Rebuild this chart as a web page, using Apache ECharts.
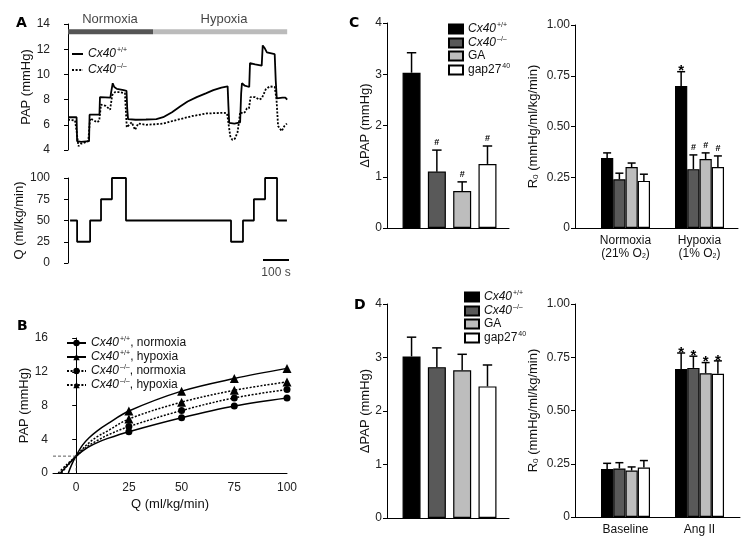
<!DOCTYPE html>
<html><head><meta charset="utf-8">
<script src="https://cdn.jsdelivr.net/npm/echarts@6/dist/echarts.min.js"></script>
<style>html,body{margin:0;padding:0;background:#fff}#c{width:746px;height:543px}</style>
</head><body><div id="c"></div>
<script>
// ---------------- DATA ----------------
// Panel A: PAP traces, [time (s), PAP (mmHg)]
const papWT = [[0,6.6],[33,6.6],[35,4.7],[50,4.65],[81,4.7],[83,6.8],[121,6.8],[123,8.2],[163,8.15],[166,8.6],[172,9.3],[178,9.0],[188,8.85],[214,8.75],[225,8.7],[228,7.2],[231,6.45],[260,6.4],[300,6.42],[340,6.45],[366,6.6],[400,7.0],[431,7.45],[460,7.85],[495,8.2],[530,8.5],[559,8.75],[590,8.95],[614,9.05],[617,7.5],[620,6.15],[640,6.1],[662,6.2],[666,8.5],[669,9.3],[680,9.1],[697,9.0],[700,10.9],[720,10.8],[745,10.7],[749,12.3],[756,12.1],[765,11.75],[795,11.6],[799,9.5],[803,8.1],[825,8.15],[836,8.15],[843,8.0]];
const papKO = [[0,6.4],[27,6.35],[33,5.5],[40,4.3],[50,4.5],[65,4.6],[78,4.7],[85,6.5],[100,6.35],[110,6.2],[120,6.3],[127,7.6],[145,7.5],[162,7.2],[170,8.35],[181,8.6],[200,8.6],[219,8.5],[226,5.8],[235,6.0],[245,6.2],[258,5.6],[270,6.1],[300,6.0],[340,6.05],[367,6.1],[420,6.4],[480,6.7],[533,6.9],[600,6.95],[612,6.9],[618,6.0],[624,5.1],[632,4.8],[642,4.9],[652,5.4],[658,6.3],[662,7.0],[672,6.9],[680,7.0],[688,7.3],[696,7.3],[702,8.2],[720,8.2],[735,8.0],[745,8.1],[752,8.4],[760,8.8],[775,9.05],[795,9.0],[802,8.0],[808,5.9],[815,5.7],[822,5.5],[832,5.9],[842,6.1]];
// Panel A: flow steps
const qTimes = [8,35,85,127,169,223,627,673,715,758,804,842];
const qVals  = [50,25,50,75,100,50,25,50,75,100,50,50];
const condTimes = [0,327,843];          // normoxia / hypoxia period bounds (s)
const condLabels = ['Normoxia','Hypoxia'];
const scaleBar = [750,850];             // 100 s
// Panel B: fitted curves (Q<25) and measured points (Q 25..100)
const bQobs = [25,50,75,100];
const bNormWT = {curve:[[-7.5,0],[-4,0.95],[0,2.0],[5,2.95],[10,3.6],[15,4.1]], obs:[4.9,6.55,7.95,8.9]};
const bHypWT  = {curve:[[-3.7,0],[-2.3,0.9],[0,2.05],[3,3.3],[6,4.15],[10,5.0],[15,5.85]], obs:[7.35,9.7,11.2,12.4]};
const bNormKO = {curve:[[-8.5,0],[-4.5,1.0],[0,2.0],[5,3.1],[10,3.85],[15,4.5]], obs:[5.5,7.4,8.9,9.9]};
const bHypKO  = {curve:[[-7,0],[-3.5,1.05],[0,2.0],[5,3.35],[10,4.3],[15,5.0]], obs:[6.4,8.4,9.8,10.8]};
const bGuide = [[-11,2],[0,2],[0,0]];
const bTicks = [0,25,50,75,100];
// Panels C/D
const groups = ['Cx40+/+','Cx40-/-','GA','gap27'];
const cDpapMean = [3.03,1.10,0.72,1.25];
const cDpapErr  = [3.42,1.52,0.90,1.60];
const cDpapMark = ['','#','#','#'];
const cCats = ['Normoxia','Hypoxia'];
const cR0Mean = [[0.345,0.70],[0.240,0.29],[0.300,0.34],[0.232,0.30]]; // per group: [normoxia, hypoxia]
const cR0Err  = [[0.370,0.77],[0.270,0.36],[0.320,0.37],[0.265,0.355]];
const cR0Mark = [['','*'],['','#'],['','#'],['','#']];
const dDpapMean = [3.02,2.82,2.76,2.46];
const dDpapErr  = [3.38,3.18,3.06,2.86];
const dCats = ['Baseline','Ang II'];
const dR0Mean = [[0.225,0.695],[0.228,0.70],[0.218,0.675],[0.232,0.672]];
const dR0Err  = [[0.252,0.77],[0.255,0.755],[0.235,0.725],[0.265,0.733]];
const dR0Mark = [['','*'],['','*'],['','*'],['','*']];

// ---------------- STYLE ----------------
const FONT = 'Liberation Sans';
const barColors = ['#000000','#595959','#bdbdbd','#ffffff'];
const RBW = 12.25;   // bar width in R0 panels
const LBW = 18;      // bar width in ΔPAP panels

const rich = {
  i:{fontStyle:'italic',fontSize:12,fontFamily:FONT,color:'#111',lineHeight:14},
  n:{fontSize:12,fontFamily:FONT,color:'#111',lineHeight:14},
  s:{fontSize:7,fontFamily:FONT,color:'#111',verticalAlign:'top',lineHeight:14,padding:[0,0,0,1]}
};
const sup = {'Cx40+/+':'{i|Cx40}{s|+/+}','Cx40-/-':'{i|Cx40}{s|–/–}','GA':'{n|GA}','gap27':'{n|gap27}{s|40}'};
const legendText = {
  a1: sup['Cx40+/+'], a2: sup['Cx40-/-'],
  b1: sup['Cx40+/+']+'{n|, normoxia}', b2: sup['Cx40+/+']+'{n|, hypoxia}',
  b3: sup['Cx40-/-']+'{n|, normoxia}', b4: sup['Cx40-/-']+'{n|, hypoxia}'
};
groups.forEach((g,k)=>{ legendText['c'+k]=sup[g]; legendText['d'+k]=sup[g]; });

function yAx(gi,min,max,interval,name,nameGap,extra){
  return Object.assign({type:'value',gridIndex:gi,min,max,interval,
    axisLine:{show:true,lineStyle:{color:'#000',width:1}},
    axisTick:{show:true,length:4,lineStyle:{color:'#000'}},
    axisLabel:{color:'#222',fontSize:12,fontFamily:FONT,margin:5},
    splitLine:{show:false},
    name,nameLocation:'middle',nameGap,
    nameTextStyle:{fontSize:13,fontFamily:FONT,color:'#111',rich:{
      a:{fontSize:13,fontFamily:FONT,color:'#111'},
      u:{fontSize:8,fontFamily:FONT,color:'#111',verticalAlign:'bottom'}}}
  },extra||{});
}
function xAx(gi,min,max,extra){
  return Object.assign({type:'value',gridIndex:gi,min,max,
    axisLine:{show:true,onZero:false,lineStyle:{color:'#000',width:1}},
    axisTick:{show:false},axisLabel:{show:false},splitLine:{show:false}},extra||{});
}
function legend(left,top,names,w,h,gap,extra){
  return Object.assign({left,top,orient:'vertical',itemWidth:w,itemHeight:h,itemGap:gap,selectedMode:false,
    data:names,formatter:n=>legendText[n],
    textStyle:{fontSize:12,fontFamily:FONT,color:'#111',rich}},extra||{});
}
function errSeries(xi,yi,pts,marks,off,cap){
  return {type:'custom',xAxisIndex:xi,yAxisIndex:yi,data:pts,z:5,silent:true,encode:{x:0,y:[1,2]},
    renderItem(params,api){
      const p0=api.coord([api.value(0),api.value(1)]);
      const p1=api.coord([api.value(0),api.value(2)]);
      const cx=p0[0]+off; const mk=marks[params.dataIndex];
      const ch=[
        {type:'line',shape:{x1:cx,y1:p0[1],x2:cx,y2:p1[1]},style:{stroke:'#000',lineWidth:1.5}},
        {type:'line',shape:{x1:cx-cap,y1:p1[1],x2:cx+cap,y2:p1[1]},style:{stroke:'#000',lineWidth:1.5}}];
      if(mk){
        const star=mk==='*';
        ch.push({type:'text',style:{text:mk,x:cx,y:p1[1]+(star?7:-3),align:'center',verticalAlign:'bottom',
          fontSize:star?15:9,fontWeight:'bold',fontFamily:FONT,fill:'#000'}});
      }
      return {type:'group',children:ch};
    }};
}

const series=[];
// ---- Panel A ----
series.push({name:'a1',type:'line',xAxisIndex:0,yAxisIndex:0,data:papWT,symbol:'none',
  lineStyle:{color:'#000',width:1.8},color:'#000'});
series.push({name:'a2',type:'line',xAxisIndex:0,yAxisIndex:0,data:papKO,symbol:'none',
  lineStyle:{color:'#000',width:1.8,type:[2,1.6]},color:'#000'});
const condColors=['#555555','#bbbbbb'];
for(let i=0;i<2;i++){
  series.push({type:'line',xAxisIndex:0,yAxisIndex:0,symbol:'none',silent:true,
    data:[[condTimes[i],13.38],[condTimes[i+1],13.38]],lineStyle:{color:condColors[i],width:5,cap:'butt'}});
}
series.push({type:'scatter',xAxisIndex:0,yAxisIndex:0,symbolSize:0,clip:false,silent:true,
  data:condLabels.map((n,i)=>({name:n,value:[(condTimes[i]+condTimes[i+1])/2 - (i===0?2:-15),14.4]})),
  label:{show:true,formatter:'{b}',position:'inside',fontSize:13,fontFamily:FONT,color:'#111'}});
series.push({type:'line',xAxisIndex:1,yAxisIndex:1,step:'end',symbol:'none',
  data:qTimes.map((t,i)=>[t,qVals[i]]),lineStyle:{color:'#000',width:1.8}});
series.push({type:'line',xAxisIndex:1,yAxisIndex:1,symbol:'none',silent:true,
  data:scaleBar.map(t=>[t,3.5]),lineStyle:{color:'#000',width:2}});
series.push({type:'scatter',xAxisIndex:1,yAxisIndex:1,symbolSize:0,clip:false,silent:true,
  data:[{name:'100 s',value:[(scaleBar[0]+scaleBar[1])/2,-11]}],
  label:{show:true,formatter:'{b}',position:'inside',fontSize:12,fontFamily:FONT,color:'#111'}});
// ---- Panel B ----
function bData(d,sym,size){
  return d.curve.map(p=>({value:p,symbol:'none'})).concat(
    bQobs.map((q,i)=>({value:[q,d.obs[i]],symbol:sym,symbolSize:size})));
}
const bDefs=[['b1',bNormWT,'circle',7,'solid'],['b2',bHypWT,'triangle',9,'solid'],
             ['b3',bNormKO,'circle',7,[2,1.6]],['b4',bHypKO,'triangle',9,[2,1.6]]];
bDefs.forEach(([nm,d,sym,size,ty])=>{
  series.push({name:nm,type:'line',xAxisIndex:2,yAxisIndex:2,data:bData(d,sym,size),smooth:0.35,
    symbol:sym,symbolSize:size,showAllSymbol:true,color:'#000',itemStyle:{color:'#000'},
    lineStyle:{color:'#000',width:1.5,type:ty}});
});
series.push({type:'line',xAxisIndex:2,yAxisIndex:2,data:bGuide,symbol:'none',silent:true,
  lineStyle:{color:'#333',width:0.8,type:[3,2]}});
// ---- Panel C / D left ΔPAP ----
function leftBars(prefix,xi,yi,mean,err,marks){
  groups.forEach((g,k)=>{
    series.push({name:prefix+k,type:'bar',xAxisIndex:xi,yAxisIndex:yi,data:[[k+1,mean[k]]],
      barWidth:LBW,barGap:'-100%',color:barColors[k],
      itemStyle:{color:barColors[k],borderColor:'#000',borderWidth:1.2}});
  });
  series.push(errSeries(xi,yi,groups.map((g,k)=>[k+1,mean[k],err[k]]),marks,0,4.7));
}
leftBars('c',3,3,cDpapMean,cDpapErr,cDpapMark);
leftBars('d',5,5,dDpapMean,dDpapErr,['','','','']);
// ---- Panel C / D right R0 ----
function rightBars(prefix,xi,yi,mean,err,marks){
  groups.forEach((g,k)=>{
    series.push({name:prefix+k,type:'bar',xAxisIndex:xi,yAxisIndex:yi,data:mean[k].map((v,j)=>[j+1,v]),
      barWidth:RBW,barGap:'0%',color:barColors[k],
      itemStyle:{color:barColors[k],borderColor:'#000',borderWidth:1.2}});
    series.push(errSeries(xi,yi,mean[k].map((v,j)=>[j+1,v,err[k][j]]),marks[k],(k-1.5)*RBW,4));
  });
}
rightBars('cr',4,4,cR0Mean,cR0Err,cR0Mark);
rightBars('dr',6,6,dR0Mean,dR0Err,dR0Mark);

const r0Name='{a|R}{u|0}{a| (mmHg/ml/kg/min)}';
const catLabel=(cats,extra)=>({show:true,customValues:[1,2],margin:6,color:'#111',fontSize:12,fontFamily:FONT,lineHeight:13,
  formatter:v=>extra[cats[v-1]]||'',rich:{o:{fontSize:12,fontFamily:FONT,color:'#111',lineHeight:13},u:{fontSize:7,fontFamily:FONT,color:'#111',lineHeight:13,padding:[5,0,0,0]}}});
const cXLab={'Normoxia':'{o|Normoxia}\n{o|(21% O}{u|2}{o|)}','Hypoxia':'{o|Hypoxia}\n{o|(1% O}{u|2}{o|)}'};
const dXLab={'Baseline':'Baseline','Ang II':'Ang II'};
const letter=(t,l,tp)=>({text:t,left:l,top:tp,textStyle:{fontSize:14,fontWeight:'bold',fontFamily:'DejaVu Sans',color:'#000'}});

const option={
  animation:false,
  title:[letter('A',11,11),letter('B',12,314),letter('C',344,11),letter('D',349,293)],
  legend:[
    legend(66,42,['a1','a2'],11,8,3,{itemStyle:{opacity:0}}),
    legend(61,331,['b1','b2','b3','b4'],19,8,1),
    legend(443,17,['c0','c1','c2','c3'],14,9,1,{icon:'rect'}),
    legend(459,285,['d0','d1','d2','d3'],14,9,1,{icon:'rect'})
  ],
  grid:[
    {left:68,top:24,width:221,height:126},
    {left:68,top:178,width:221,height:85},
    {left:53,top:338,width:234,height:135},
    {left:387,top:23,width:122,height:205},
    {left:575,top:25,width:163,height:203},
    {left:387,top:304,width:122,height:214},
    {left:575,top:304,width:165,height:213}
  ],
  xAxis:[
    {type:'value',gridIndex:0,min:0,max:850,show:false},
    {type:'value',gridIndex:1,min:0,max:850,show:false},
    xAx(2,-11,100,{axisLabel:{show:true,customValues:bTicks,color:'#222',fontSize:12,fontFamily:FONT,margin:9},
      name:'Q (ml/kg/min)',nameLocation:'middle',nameGap:25,nameTextStyle:{fontSize:13,fontFamily:FONT,color:'#111'}}),
    xAx(3,0.03,4.85),
    xAx(4,0.3176,2.52,{axisLabel:catLabel(cCats,cXLab)}),
    xAx(5,0.03,4.85),
    xAx(6,0.3176,2.547,{axisLabel:catLabel(dCats,dXLab)})
  ],
  yAxis:[
    yAx(0,4,14,2,'PAP (mmHg)',22,{offset:13}),
    yAx(1,0,100,25,'Q (ml/kg/min)',22,{offset:13}),
    yAx(2,0,16,4,'PAP (mmHg)',17),
    yAx(3,0,4,1,'ΔPAP (mmHg)',13),
    yAx(4,0,1,0.25,r0Name,35,{axisLabel:{color:'#222',fontSize:12,fontFamily:FONT,margin:5,formatter:v=>v===0?'0':v.toFixed(2)}}),
    yAx(5,0,4,1,'ΔPAP (mmHg)',13),
    yAx(6,0,1,0.25,r0Name,35,{axisLabel:{color:'#222',fontSize:12,fontFamily:FONT,margin:5,formatter:v=>v===0?'0':v.toFixed(2)}})
  ],
  series
};
echarts.init(document.getElementById('c')).setOption(option);
</script></body></html>
